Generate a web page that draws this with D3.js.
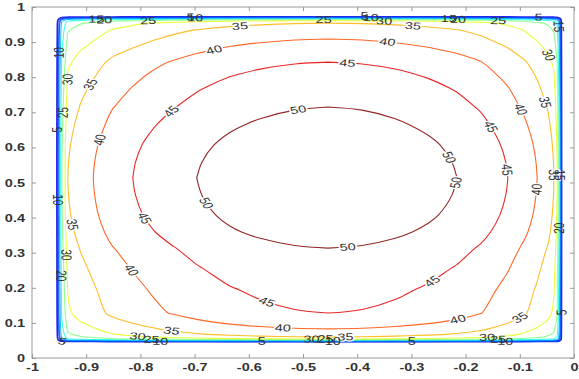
<!doctype html>
<html>
<head>
<meta charset="utf-8">
<script src="https://d3js.org/d3.v7.min.js"></script>
<style>
  body { margin: 0; background: #fff; }
  text { font-family: Arial, "Liberation Sans", sans-serif; }
</style>
</head>
<body>
<svg width="579" height="379"></svg>
<script>
// contour levels drawn
var levels = [5, 10, 15, 20, 25, 30, 35, 40, 45, 50];

// field read along the middle row (y ~ 0.51)
var rowX   = [-0.956, -0.952, -0.948, -0.945, -0.939, -0.934, -0.911, -0.887, -0.852, -0.814, -0.782, -0.742, -0.696, -0.635, -0.579, -0.515,
              -0.454, -0.391, -0.330, -0.269, -0.216, -0.173, -0.122, -0.092, -0.068, -0.048, -0.037, -0.031, -0.028, -0.024, -0.022];
var rowVal = [0, 10, 18, 25, 30, 35, 38, 40, 43, 45, 46.6, 48.3, 50, 51.8, 52.9, 53.7,
              54, 53.7, 52.9, 51.6, 50, 48.2, 45, 42.5, 40, 37.5, 35, 30, 22, 10, 0];

// field read along the middle column (x ~ -0.45)
var colY   = [0.046, 0.048, 0.051, 0.054, 0.060, 0.068, 0.083, 0.103, 0.128, 0.194, 0.256, 0.313, 0.359, 0.407, 0.464, 0.513,
              0.558, 0.607, 0.664, 0.715, 0.769, 0.809, 0.843, 0.877, 0.909, 0.934, 0.954, 0.960, 0.963, 0.966, 0.969, 0.974];
var colVal = [0, 12, 22, 30, 35, 37.5, 40, 42.5, 45, 46.6, 48.3, 50, 51.7, 52.9, 53.7, 54,
              53.7, 53, 51.6, 50, 48.2, 46.6, 45, 42.5, 40, 38, 35, 31, 27, 20, 12, 0];
var peak = 54;

// tick values / labels
var xTicks = [-1, -0.9, -0.8, -0.7, -0.6, -0.5, -0.4, -0.3, -0.2, -0.1, 0];
var xTickLabels = ["-1", "-0.9", "-0.8", "-0.7", "-0.6", "-0.5", "-0.4", "-0.3", "-0.2", "-0.1", "0"];
var yTicks = [0, 0.1, 0.2, 0.3, 0.4, 0.5, 0.6, 0.7, 0.8, 0.9, 1];
var yTickLabels = ["0", "0.1", "0.2", "0.3", "0.4", "0.5", "0.6", "0.7", "0.8", "0.9", "1"];

// inline contour labels: level, approx x, approx y (snapped onto the line)
var labelLevel = [50, 50, 50, 50, 50,
                  45, 45, 45, 45, 45, 45, 45,
                  40, 40, 40, 40, 40, 40, 40, 40,
                  35, 35, 35, 35, 35, 35, 35, 35, 35,
                  30, 30, 30, 30, 30, 30, 30,
                  25, 25, 25, 25, 25, 25, 25,
                  20, 20, 20, 20,
                  15, 15, 15, 15,
                  10, 10, 10, 10, 10, 10, 10,
                  5, 5, 5, 5, 5, 5, 5, 5];
var labelX = [-0.509, -0.690, -0.417, -0.236, -0.225,
              -0.417, -0.773, -0.806, -0.570, -0.149, -0.118, -0.247,
              -0.343, -0.666, -0.875, -0.828, -0.537, -0.216, -0.063, -0.094,
              -0.887, -0.616, -0.297, -0.926, -0.742, -0.422, -0.109, -0.041, -0.050,
              -0.935, -0.349, -0.806, -0.483, -0.161, -0.057, -0.948,
              -0.786, -0.463, -0.140, -0.945, -0.779, -0.459, -0.140,
              -0.867, -0.214, -0.948, -0.030,
              -0.882, -0.232, -0.030, -0.030,
              -0.948, -0.699, -0.376, -0.764, -0.446, -0.127, -0.948,
              -0.066, -0.708, -0.386, -0.945, -0.576, -0.299, -0.031, -0.952];
var labelY = [0.707, 0.430, 0.313, 0.564, 0.501,
              0.840, 0.758, 0.387, 0.142, 0.664, 0.536, 0.185,
              0.900, 0.889, 0.621, 0.236, 0.080, 0.123, 0.479, 0.712,
              0.772, 0.949, 0.943, 0.379, 0.080, 0.060, 0.137, 0.521, 0.729,
              0.792, 0.954, 0.057, 0.054, 0.057, 0.855, 0.293,
              0.954, 0.963, 0.954, 0.701, 0.051, 0.046, 0.048,
              0.957, 0.960, 0.236, 0.370,
              0.960, 0.963, 0.521, 0.943,
              0.869, 0.974, 0.969, 0.046, 0.046, 0.046, 0.453,
              0.972, 0.974, 0.969, 0.046, 0.040, 0.040, 0.128, 0.650];

var svg = d3.select("svg"),
    pLeft = 32, pRight = 574, pTop = 7, pBottom = 358;

var x = d3.scaleLinear().domain([-1, 0]).range([pLeft, pRight]);
var y = d3.scaleLinear().domain([0, 1]).range([pBottom, pTop]);

// jet colour map, 0..50
var colorMax = 50;
function jet(v) {
    var t = v / colorMax;
    function c(a) { return Math.round(255 * Math.max(0, Math.min(1, a))); }
    return "rgb(" + c(1.5 - Math.abs(4 * t - 3)) + "," + c(1.5 - Math.abs(4 * t - 2)) + "," + c(1.5 - Math.abs(4 * t - 1)) + ")";
}

// grid table for d3.contours, built from the two profiles
var nx = rowX.length, ny = colY.length, grid = [];
for (var j = 0; j < ny; j++)
    for (var i = 0; i < nx; i++)
        grid.push(rowVal[i] * colVal[j] / peak);

var contours = d3.contours().size([nx, ny]).thresholds(levels)(grid);

function stationMap(st) {
    return function(g) {
        var t = g - 0.5, k = Math.max(0, Math.min(st.length - 2, Math.floor(t)));
        return st[k] + (t - k) * (st[k + 1] - st[k]);
    };
}
var gX = stationMap(rowX), gY = stationMap(colY);

var line = d3.line()
    .x(function(p) { return x(gX(p[0])); })
    .y(function(p) { return y(gY(p[1])); })
    .curve(d3.curveCatmullRomClosed.alpha(0.5));

function ringsPath(c) {
    var d = "";
    c.coordinates.forEach(function(poly) {
        poly.forEach(function(ring) {
            d += line(ring.slice(0, ring.length - 1));
        });
    });
    return d;
}

var paths = svg.append("g").selectAll("path")
    .data(contours)
    .enter().append("path")
    .attr("d", ringsPath)
    .attr("fill", "none")
    .attr("stroke", function(d) { return jet(d.value); })
    .attr("stroke-width", function(d) { return d.value <= 10 ? 1.8 : 1.1; })
    .attr("stroke-opacity", 0.85);

// box and inward ticks
svg.append("rect")
    .attr("x", pLeft).attr("y", pTop)
    .attr("width", pRight - pLeft).attr("height", pBottom - pTop)
    .attr("fill", "none").attr("stroke", "#999");

var ax = svg.append("g").attr("transform", "translate(0," + pBottom + ")")
    .call(d3.axisBottom(x).tickValues(xTicks).tickSize(-4).tickSizeOuter(0)
        .tickFormat(function(d, i) { return xTickLabels[i]; }));
svg.append("g").attr("transform", "translate(0," + pTop + ")")
    .call(d3.axisTop(x).tickValues(xTicks).tickSize(-4).tickSizeOuter(0).tickFormat(""));
var ay = svg.append("g").attr("transform", "translate(" + pLeft + ",0)")
    .call(d3.axisLeft(y).tickValues(yTicks).tickSize(-4).tickSizeOuter(0)
        .tickFormat(function(d, i) { return yTickLabels[i]; }));
svg.append("g").attr("transform", "translate(" + pRight + ",0)")
    .call(d3.axisRight(y).tickValues(yTicks).tickSize(-4).tickSizeOuter(0).tickFormat(""));

svg.selectAll(".domain").remove();
svg.selectAll(".tick line").attr("stroke", "#999");

ax.selectAll("text")
    .attr("y", 0).attr("dy", null)
    .attr("transform", "translate(0,13) scale(1.45,1)")
    .attr("font-size", 10).attr("font-weight", "bold").attr("fill", "#333");
ay.selectAll("text")
    .attr("x", 0).attr("dy", "0.35em")
    .attr("transform", "translate(-7,0) scale(1.45,1)")
    .attr("font-size", 10).attr("font-weight", "bold").attr("fill", "#333");

// contour labels, snapped to their line and turned along it
var sx = 1.45, samples = {};
paths.each(function(d) {
    var node = this;
    if (!node.getAttribute("d")) return;
    var L = node.getTotalLength(), pts = [];
    for (var s = 0; s <= L; s += 1.5) {
        var p = node.getPointAtLength(s);
        pts.push([p.x, p.y]);
    }
    samples[d.value] = pts;
});

var lab = svg.append("g");
labelLevel.forEach(function(lv, n) {
    var pts = samples[lv];
    if (!pts || !pts.length) return;
    var px = x(labelX[n]), py = y(labelY[n]), best = 0, bd = Infinity;
    pts.forEach(function(p, k) {
        var dd = (p[0] - px) * (p[0] - px) + (p[1] - py) * (p[1] - py);
        if (dd < bd) { bd = dd; best = k; }
    });
    var a = pts[Math.max(0, best - 3)], b = pts[Math.min(pts.length - 1, best + 3)];
    var ang = Math.atan2(b[1] - a[1], (b[0] - a[0]) / sx) * 180 / Math.PI;
    if (ang > 90) ang -= 180;
    if (ang < -90) ang += 180;
    var t = lab.append("text")
        .attr("transform", "translate(" + pts[best][0] + "," + pts[best][1] + ") scale(" + sx + ",1) rotate(" + ang + ")")
        .attr("text-anchor", "middle")
        .attr("dy", "0.35em")
        .attr("font-size", 10)
        .attr("fill", "#333")
        .text(lv);
    if (lv >= 35) t.attr("stroke", "#fff").attr("stroke-width", 2.5).attr("paint-order", "stroke");
});
</script>
</body>
</html>
